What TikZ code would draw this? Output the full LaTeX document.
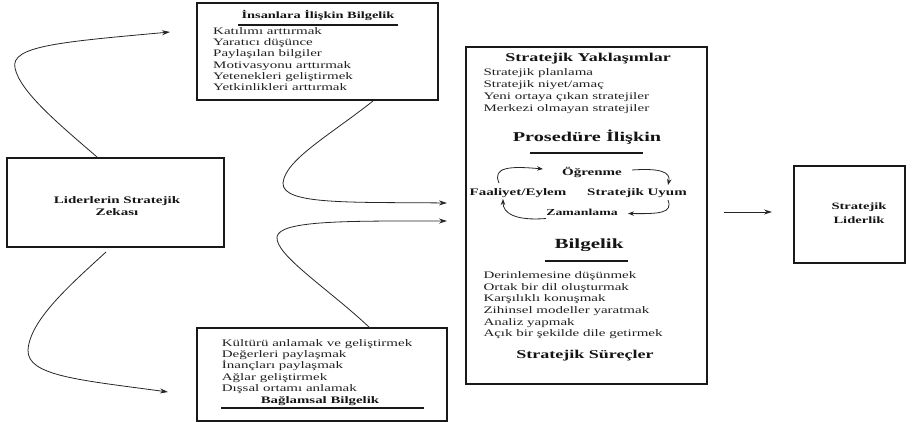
\documentclass[tikz,border=0pt]{standalone}
\usepackage{fontspec}
\setmainfont{Liberation Serif}[FakeStretch=1.5]
\usetikzlibrary{arrows.meta}
\begin{document}
\begin{tikzpicture}[x=1pt,y=-1pt,
  box/.style={draw=black!90,line width=1.2pt,inner sep=0pt},
  conn/.style={draw=black!85,line width=0.8pt,-{Stealth[length=8pt,width=5pt]}},
  small/.style={draw=black!85,line width=0.8pt,-{Stealth[length=6pt,width=4.5pt]}},
  item/.style={anchor=base west,inner sep=0pt,text=black!88,font=\fontsize{10}{12}\selectfont},
  ttl/.style={anchor=base,inner sep=0pt,text=black!92,font=\fontsize{#1}{#1}\selectfont\bfseries},
  rulex/.style={draw=black!90,line width=1.6pt}]
\useasboundingbox (0,0) rectangle (921,422);
% boxes
\node[box,minimum width=217,minimum height=89] (lz) at (115.5,202.5) {};
\node[box,minimum width=241,minimum height=97] (ib) at (317.5,51.5) {};
\node[box,minimum width=250,minimum height=93] (bb) at (322,374.5) {};
\node[box,minimum width=241,minimum height=337] (sp) at (586.5,215.5) {};
\node[box,minimum width=111,minimum height=97] (sl) at (849.5,214.5) {};
% left box text
\node[ttl=10] (lz1) at (117,203.3) {Liderlerin Stratejik};
\node[ttl=10] (lz2) at (117,215) {Zekası};
% right box text
\node[ttl=9.7] (sl1) at (859,210) {Stratejik};
\node[ttl=9.7] (sl2) at (859,223.3) {Liderlik};
% top box
\node[ttl=9.6] (ibt) at (318,19) {İnsanlara İlişkin Bilgelik};
\draw[rulex,line width=1.3pt] (238,25) -- (398,25);
\foreach \t [count=\i] in {Katılımı arttırmak,Yaratıcı düşünce,Paylaşılan bilgiler,Motivasyonu arttırmak,Yetenekleri geliştirmek,Yetkinlikleri arttırmak}
  \node[item] (ibi\i) at (213,{34.3+(\i-1)*11.3}) {\t};
% bottom box
\foreach \t [count=\i] in {Kültürü anlamak ve geliştirmek,Değerleri paylaşmak,İnançları paylaşmak,Ağlar geliştirmek,Dışsal ortamı anlamak}
  \node[item] (bbi\i) at (221.7,{346+(\i-1)*11.4}) {\t};
\node[ttl=9.9] (bbt) at (320,403.5) {Bağlamsal Bilgelik};
\draw[rulex,line width=1.3pt] (221,408) -- (424,408);
% middle box
\node[ttl=12] (syt) at (588,62) {Stratejik Yaklaşımlar};
\foreach \t [count=\i] in {Stratejik planlama,Stratejik niyet/amaç,Yeni ortaya çıkan stratejiler,Merkezi olmayan stratejiler}
  \node[item] (syi\i) at (483.3,{76+(\i-1)*11.9}) {\t};
\node[ttl=13.5] (pit) at (587,142) {Prosedüre İlişkin};
\draw[rulex,line width=2pt] (530,153) -- (643,153);
\node[ttl=10] (ogr) at (592,176) {Öğrenme};
\node[ttl=10] (fae) at (518,196) {Faaliyet/Eylem};
\node[ttl=10] (suy) at (637,196) {Stratejik Uyum};
\node[ttl=9.2] (zam) at (582,215.7) {Zamanlama};
\draw[small] (499,183) .. controls (492,167) and (510,166) .. (543,169);
\draw[small] (632,170) .. controls (660,168) and (671,172) .. (668,185);
\draw[small] (668,200) .. controls (673,213) and (660,214) .. (628,213.5);
\draw[small] (546,218.5) .. controls (515,221) and (503,213) .. (503,199);
\node[ttl=14] (bgt) at (589,248.3) {Bilgelik};
\draw[rulex,line width=2pt] (545,261) -- (628,261);
\foreach \t [count=\i] in {Derinlemesine düşünmek,Ortak bir dil oluşturmak,Karşılıklı konuşmak,Zihinsel modeller yaratmak,Analiz yapmak,Açık bir şekilde dile getirmek}
  \node[item] (bgi\i) at (483.3,{278.3+(\i-1)*11.7}) {\t};
\node[ttl=12] (sst) at (585,358) {Stratejik Süreçler};
% connectors
\coordinate (a1) at (97,157);
\coordinate (a1e) at (170,32);
\coordinate (a2) at (106,252);
\coordinate (a2e) at (168,392);
\coordinate (b1) at (373,101);
\coordinate (b1e) at (447,203);
\coordinate (b2) at (370,328);
\coordinate (b2e) at (447,221);
\coordinate (c1) at (724,212);
\coordinate (c1e) at (772,212);
\draw[conn] (a1) .. controls (60,125) and (20,92) .. (15,68) .. controls (10,46) and (60,42) .. (a1e);
\draw[conn] (a2) .. controls (70,285) and (30,320) .. (28,350) .. controls (27,376) and (80,380) .. (a2e);
\draw[conn] (b1) .. controls (330,135) and (285,160) .. (283,183) .. controls (282,205) and (350,202) .. (b1e);
\draw[conn] (b2) .. controls (330,290) and (275,255) .. (277,237) .. controls (279,220) and (350,221) .. (b2e);
\draw[conn] (c1) -- (c1e);
\end{tikzpicture}
\end{document}
